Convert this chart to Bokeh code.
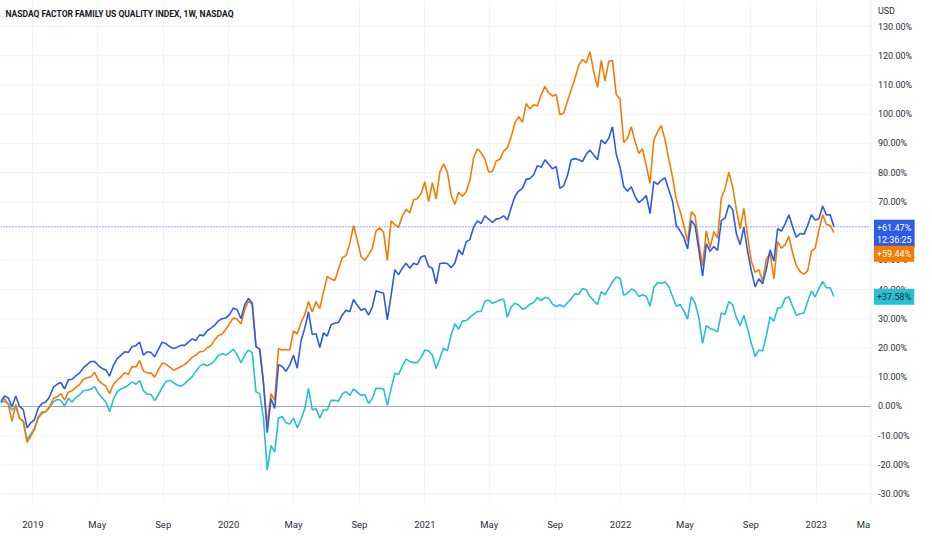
from datetime import datetime
import pandas as pd
from bokeh.plotting import figure
from bokeh.models import Range1d, FixedTicker, Span, Label
from bokeh.core.properties import value
from bokeh.embed import file_html
from bokeh.resources import INLINE

# ---------------- data (weekly % change) ----------------
start_date = "2018-11-02"
n_weeks = 223

quality_index = [  # blue
    1.6, 3.6, 2.9, 0.0, 3.6, 0.0, -1.1, -7.3, -5.6, -4.5,
    -0.5, 1.0, 1.5, 3.3, 6.5, 7.6, 8.2, 6.0, 9.1, 9.3,
    10.5, 11.5, 13.2, 14.3, 15.4, 15.4, 14.0, 13.0, 12.5, 10.4,
    14.0, 16.4, 17.5, 18.7, 18.5, 20.5, 20.8, 22.0, 17.6, 18.7,
    18.5, 17.0, 19.5, 22.0, 21.5, 20.5, 19.8, 20.3, 20.9, 20.9,
    22.0, 23.1, 22.6, 24.5, 24.2, 25.9, 26.8, 27.8, 29.3, 30.0,
    30.3, 31.5, 33.7, 33.1, 30.0, 34.8, 37.0, 35.3, 20.5, 19.6,
    8.0, -9.0, 2.7, -0.7, 14.3, 13.7,
    12.0, 14.2, 17.5, 13.1, 22.4, 26.8, 32.4, 24.6, 24.9, 20.2,
    25.2, 24.1, 28.0, 28.5, 28.8, 31.3, 32.9, 32.4, 36.6, 34.6,
    32.9, 33.5, 31.3, 34.0, 39.6, 39.1, 38.8, 29.6, 37.9, 46.8,
    45.1, 47.3, 49.0, 47.3, 49.0, 48.5, 51.2, 51.6, 47.9, 47.3,
    42.0, 48.9, 49.1, 48.9, 47.5, 49.1, 53.6, 51.9, 56.3, 57.1,
    61.3, 63.5, 62.6, 65.2, 64.1, 63.0, 64.1, 64.4, 65.2, 63.8,
    68.0, 71.9, 73.7, 74.6, 77.7, 78.0, 79.3, 82.4, 81.8, 84.4,
    82.9, 81.3, 82.1, 74.6, 75.5, 79.0, 84.4, 84.8, 84.4,
    83.8, 86.3, 87.7, 86.0, 84.4, 91.2, 89.9, 91.8, 95.7, 86.3,
    81.9, 75.2, 73.6, 75.2, 71.9, 69.7, 70.8, 72.2, 66.0, 76.9,
    76.0, 77.4, 78.2, 74.1, 70.2, 61.9, 60.1, 57.9, 53.9, 63.6,
    61.9, 53.6, 44.6, 55.6, 53.1, 54.7, 53.4,
    63.6, 64.5, 68.9, 67.4, 59.1, 55.3, 61.4, 53.1, 46.4, 40.9,
    43.7, 42.0, 47.0, 53.6, 49.7, 60.8, 60.0, 62.5, 65.6, 61.4,
    57.9, 59.2, 58.9, 61.9, 65.6, 63.8, 64.2, 68.6, 65.5, 65.6,
    61.47,
]

series_orange = [
    1.6, 2.7, 0.7, -5.1, 0.7, -4.0, -5.1, -12.3, -10.1, -7.9,
    -3.5, -1.8, -1.8, 0.0, 2.7, 3.3, 4.4, 2.2, 4.9, 5.4,
    6.5, 7.5, 9.3, 9.8, 10.2, 11.7, 9.0, 7.8, 7.0, 4.4,
    7.5, 9.0, 10.0, 11.5, 11.0, 13.7, 13.5, 15.7, 12.1, 11.5,
    11.5, 10.0, 12.5, 14.8, 14.5, 13.5, 12.4, 13.0, 13.7, 14.3,
    15.5, 16.8, 17.6, 18.7, 18.9, 20.1, 20.8, 22.8, 24.3, 24.8,
    26.5, 28.5, 30.3, 29.8, 28.3, 33.1, 36.1, 34.8, 20.5, 19.6,
    8.0, -6.3, 4.4, 2.1, 19.8, 19.3,
    19.5, 19.3, 25.9, 24.8, 28.7, 31.4, 35.9, 32.3, 35.9, 33.5,
    39.2, 44.5, 43.6, 43.1, 47.0, 50.9, 51.6, 55.8, 61.9, 56.9,
    51.3, 50.0, 51.8, 54.1, 60.0, 61.1, 59.6, 50.0, 63.5, 62.2,
    61.3, 65.2, 67.4, 66.3, 70.7, 71.1, 72.9, 76.8, 70.1, 76.6,
    71.0, 80.2, 83.0, 80.2, 72.4, 69.1, 73.3, 71.9, 73.5, 77.4,
    85.1, 88.2, 86.8, 84.6, 80.2, 80.4, 84.0, 84.6, 87.4, 88.5,
    92.3, 97.0, 99.2, 97.3, 103.6, 101.8, 103.2, 102.9, 106.7, 109.5,
    107.3, 106.2, 106.7, 99.8, 100.3, 104.5, 108.4, 112.2, 116.7,
    118.7, 117.6, 121.4, 114.5, 109.2, 118.4, 111.4, 118.1, 118.4, 106.7,
    105.1, 90.3, 91.8, 95.7, 90.7, 86.6, 88.1, 82.4, 76.3, 91.2,
    93.9, 96.1, 91.2, 84.6, 78.5, 70.7, 66.9, 61.9, 56.4, 66.6,
    65.2, 55.8, 48.1, 60.1, 54.2, 59.8, 57.6,
    71.3, 74.6, 80.2, 75.2, 67.4, 60.8, 67.8, 58.1, 49.7, 45.9,
    46.8, 42.8, 50.3, 52.5, 43.7, 56.4, 54.2, 55.3, 58.2, 52.5,
    48.1, 46.1, 45.3, 46.4, 53.1, 54.2, 60.3, 65.6, 62.3, 61.9,
    59.44,
]

series_cyan = [
    1.3, 1.8, 1.0, -1.2, 0.0, -4.0, -5.1, -11.2, -9.5, -7.3,
    -4.0, -2.3, -1.8, -0.4, 1.5, 2.4, 2.1, 0.1, 2.8, 1.5,
    3.0, 4.0, 5.4, 5.6, 5.9, 6.8, 4.5, 3.0, 1.5, -1.8,
    2.5, 5.0, 6.0, 6.5, 7.3, 8.4, 7.6, 8.9, 5.4, 4.2,
    4.2, 2.0, 4.0, 6.5, 8.5, 9.0, 8.2, 7.3, 6.9, 7.8,
    9.0, 10.2, 12.0, 13.8, 14.5, 13.9, 14.6, 15.7, 17.5, 18.0,
    17.6, 18.5, 19.6, 17.6, 15.0, 17.6, 19.3, 18.4, 5.0, 4.4,
    -4.0, -21.7, -13.4, -15.6, -4.0, -3.4,
    -5.6, -6.0, -4.0, -7.3, -4.5, -0.7, 6.2, -1.2, -0.7, -4.0,
    -1.2, -1.2, 2.1, 2.1, 1.8, 4.3, 5.1, 3.8, 6.0, 4.9,
    3.8, 4.0, 1.0, 2.7, 6.2, 6.2, 6.0, 0.4, 6.0, 11.3,
    11.0, 13.7, 16.2, 15.4, 15.0, 15.0, 16.8, 19.3, 19.0, 17.6,
    13.0, 16.5, 20.0, 19.0, 24.5, 28.3, 26.4, 29.2, 29.4, 30.5,
    31.6, 32.5, 32.5, 36.0, 36.4, 35.3, 35.8, 36.5, 36.7, 30.5,
    34.0, 35.3, 34.7, 33.3, 33.8, 35.0, 35.6, 37.3, 36.2, 37.3,
    37.0, 35.0, 34.2, 34.8, 34.0, 35.5, 36.8, 38.6, 38.3,
    40.4, 39.9, 37.6, 36.2, 34.9, 39.3, 38.2, 40.4, 42.6, 44.3,
    43.9, 38.0, 38.8, 40.2, 39.6, 37.6, 38.2, 37.6, 34.3, 40.6,
    42.4, 42.1, 42.6, 41.0, 37.6, 34.3, 34.9, 32.7, 29.9, 37.6,
    35.4, 30.5, 21.6, 27.7, 26.6, 26.3, 25.5,
    32.0, 31.5, 35.9, 34.8, 30.4, 27.6, 31.2, 26.5, 21.6, 17.1,
    19.3, 19.0, 24.3, 30.6, 29.2, 33.7, 33.9, 37.0, 37.5, 34.2,
    31.2, 31.7, 32.0, 35.9, 39.5, 37.5, 40.4, 42.8, 40.6, 40.6,
    37.58,
]

y_ticks = [-30, -20, -10, 0, 10, 20, 30, 40, 50, 60, 70, 80, 90, 100, 110, 120, 130]
y_tick_labels = [f"{t:.2f}%" for t in y_ticks]
x_tick_dates = ["2019-01-01", "2019-05-01", "2019-09-01", "2020-01-01", "2020-05-01",
                "2020-09-01", "2021-01-01", "2021-05-01", "2021-09-01", "2022-01-01",
                "2022-05-01", "2022-09-01", "2023-01-01"]
x_tick_labels = ["2019", "May", "Sep", "2020", "May", "Sep", "2021", "May", "Sep",
                 "2022", "May", "Sep", "2023"]
cut_label_date = "2023-03-30"   # visible, clipped start of the next "May" label
cut_label_text = "Ma"
title_text = "NASDAQ FACTOR FAMILY US QUALITY INDEX, 1W, NASDAQ"
currency_text = "USD"
timer_text = "12:36:25"

BLUE = "#2E5BE6"
ORANGE = "#F57C00"
CYAN = "#26BFD4"
TXT = "#2a2e39"
GRID = "#f0f2f6"
FONT = "Roboto"

dates = pd.date_range(start_date, periods=n_weeks, freq="7D")

x_start = datetime(2018, 11, 1, 12)
x_end = datetime(2023, 7, 7)
scale_edge = datetime(2023, 4, 13)      # left edge of the price scale
y_top, y_bottom = 138.9, -33.2

p = figure(width=916, height=534, frame_width=916, frame_height=503,
           x_axis_type="datetime", y_axis_location=None,
           x_range=Range1d(x_start, x_end), y_range=Range1d(y_bottom, y_top),
           output_backend="svg", toolbar_location=None,
           min_border_left=0, min_border_top=0, min_border_right=0, min_border_bottom=31)
p.outline_line_color = None
p.background_fill_color = "white"
p.border_fill_color = "white"

def to_ms(s):
    return pd.Timestamp(s).value / 1e6

x_ticks = [to_ms(d) for d in x_tick_dates]
axis_ticks = x_ticks + [to_ms(cut_label_date)]
p.xaxis.ticker = FixedTicker(ticks=axis_ticks)
p.xaxis.major_label_overrides = {t: l for t, l in zip(axis_ticks, x_tick_labels + [cut_label_text])}
p.xaxis.axis_line_color = None
p.xaxis.major_tick_line_color = None
p.xaxis.minor_tick_line_color = None
p.xaxis.major_label_text_font = FONT
p.xaxis.major_label_text_font_size = "9.5px"
p.xaxis.major_label_text_color = TXT
p.xaxis.major_label_standoff = 9

p.xgrid.ticker = FixedTicker(ticks=x_ticks)
p.xgrid.grid_line_color = GRID
p.ygrid.grid_line_color = None

# horizontal grid lines of the price scale, ending at the scale's edge
grid_y = [t for t in y_ticks if t != 0]
p.segment(x0=[x_start] * len(grid_y), x1=[scale_edge] * len(grid_y),
          y0=grid_y, y1=grid_y, line_color=GRID, line_width=1)
p.segment(x0=[x_start], x1=[scale_edge], y0=[0], y1=[0], line_color="#a3a6af", line_width=1)
p.add_layout(Span(location=to_ms("2023-04-13"), dimension="height",
                  line_color="#eceef2", line_width=1))
p.segment(x0=[x_start], x1=[scale_edge], y0=[quality_index[-1]], y1=[quality_index[-1]],
          line_color=BLUE, line_width=1, line_dash="1 2")

# price-scale labels
p.text(x=[scale_edge] * len(y_ticks), y=y_ticks, text=y_tick_labels, x_offset=7,
       text_align="left", text_baseline="middle", text_font=value(FONT),
       text_font_size="9px", text_color=TXT)

p.line(dates, series_cyan, line_color=CYAN, line_width=1.6)
p.line(dates, series_orange, line_color=ORANGE, line_width=1.6)
p.line(dates, quality_index, line_color=BLUE, line_width=1.6)

p.add_layout(Label(x=x_start, y=y_top, x_offset=5, y_offset=-8, text=title_text,
                   anchor="top_left", text_font=FONT, text_font_size="8.5px",
                   text_font_style="bold", text_color="#131722"))
p.add_layout(Label(x=scale_edge, y=y_top, x_offset=7, y_offset=-5, text=currency_text,
                   anchor="top_left", text_font=FONT, text_font_size="9px",
                   text_color=TXT))

p.add_layout(Label(x=scale_edge, y=quality_index[-1], x_offset=3, y_offset=7,
                   text=f"+{quality_index[-1]:.2f}%\n{timer_text}", anchor="top_left",
                   text_font=FONT, text_font_size="9px", text_color="white",
                   background_fill_color=BLUE, padding=3, text_line_height=1.2))
p.add_layout(Label(x=scale_edge, y=series_orange[-1], x_offset=3, y_offset=-13,
                   text=f"+{series_orange[-1]:.2f}%", anchor="top_left",
                   text_font=FONT, text_font_size="9px", text_color="white",
                   background_fill_color=ORANGE, padding=3))
p.add_layout(Label(x=scale_edge, y=series_cyan[-1], x_offset=3, y_offset=0,
                   text=f"+{series_cyan[-1]:.2f}%", anchor="center_left",
                   text_font=FONT, text_font_size="9px", text_color="#10313a",
                   background_fill_color=CYAN, padding=3))

open("out.html", "w").write(file_html(p, INLINE))
